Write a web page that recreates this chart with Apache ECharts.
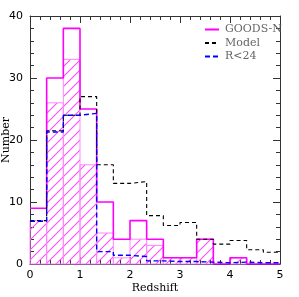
<!DOCTYPE html>
<html><head><meta charset="utf-8">
<script src="https://cdn.jsdelivr.net/npm/echarts@6/dist/echarts.min.js"></script>
<style>html,body{margin:0;padding:0;background:#fff}#c{width:299px;height:297px}</style>
</head><body><div id="c"></div>
<script>
// Bin edges (width 1/3 in redshift)
const binEdges = [0, 0.3333, 0.6667, 1, 1.3333, 1.6667, 2, 2.3333, 2.6667, 3, 3.3333, 3.6667, 4, 4.3333, 4.6667, 5];
// GOODS-N total counts per bin
const goodsN = [9, 30, 38, 25, 10, 4, 7, 4, 1, 1, 4, 0, 1, 0, 0];
// GOODS-N hatched subset per bin
const goodsNHatched = [7, 26, 33, 16, 5, 1, 4, 3, 1, 1, 4, 0, 1, 0, 0];
// Model prediction per bin
const model = [7, 21.5, 24, 27, 16, 13, 13.3, 7.8, 6.2, 6.7, 4, 3.2, 3.8, 2.3, 1.9];
// R<24 subset per bin
const rLt24 = [6.9, 21.3, 24, 24.3, 2, 1.4, 1.2, 0.5, 0.4, 0.4, 0.3, 0.2, 0.3, 0.2, 0.2];
// Tick labels
const xTicks = [0, 1, 2, 3, 4, 5];
const yTicks = [0, 10, 20, 30, 40];
const seriesNames = ['GOODS-N', 'Model', 'R<24'];

function stepPoints(vals) {
  const pts = vals.map((v, i) => [binEdges[i], v]);
  pts.push([binEdges[vals.length], vals[vals.length - 1]]);
  return pts;
}

// hatch pattern
const tile = 10;
const pc = document.createElement('canvas');
pc.width = tile; pc.height = tile;
const g = pc.getContext('2d');
g.strokeStyle = '#ff4dff';
g.lineWidth = 1.1;
g.beginPath();
g.moveTo(-1, tile + 1); g.lineTo(tile + 1, -1);
g.moveTo(-1, 1); g.lineTo(1, -1);
g.moveTo(tile - 1, tile + 1); g.lineTo(tile + 1, tile - 1);
g.stroke();

const chart = echarts.init(document.getElementById('c'), null, {renderer: 'canvas'});

const serifFont = 'DejaVu Serif';
const sansFont = 'DejaVu Sans';
const axisColor = '#333';

function xAxisCfg(pos, showLabel) {
  return {
    type: 'value', position: pos,
    min: xTicks[0], max: xTicks[xTicks.length - 1], interval: xTicks[1] - xTicks[0],
    axisLine: {show: true, onZero: false, lineStyle: {color: axisColor, width: 1}},
    axisTick: {show: true, inside: true, length: 7, lineStyle: {color: axisColor}},
    minorTick: {show: true, splitNumber: 5, length: 4, lineStyle: {color: axisColor}},
    axisLabel: {show: showLabel, color: '#000', fontFamily: sansFont, fontSize: 11, margin: 6},
    splitLine: {show: false},
    name: showLabel ? 'Redshift' : '',
    nameLocation: 'middle', nameGap: 19, nameMoveOverlap: false,
    nameTextStyle: {color: '#000', fontFamily: serifFont, fontSize: 11}
  };
}
function yAxisCfg(pos, showLabel) {
  return {
    type: 'value', position: pos,
    min: yTicks[0], max: yTicks[yTicks.length - 1], interval: yTicks[1] - yTicks[0],
    axisLine: {show: true, onZero: false, lineStyle: {color: axisColor, width: 1}},
    axisTick: {show: true, inside: true, length: 7, lineStyle: {color: axisColor}},
    minorTick: {show: true, splitNumber: 5, length: 4, lineStyle: {color: axisColor}},
    axisLabel: {show: showLabel, color: '#000', fontFamily: sansFont, fontSize: 11, margin: 7},
    splitLine: {show: false},
    name: showLabel ? 'Number' : '',
    nameLocation: 'middle', nameGap: 18, nameMoveOverlap: false,
    nameTextStyle: {color: '#000', fontFamily: serifFont, fontSize: 11}
  };
}

const option = {
  animation: false,
  backgroundColor: '#fff',
  grid: {left: 30, top: 16, right: 19, bottom: 33, containLabel: false, outerBoundsMode: 'none'},
  xAxis: [xAxisCfg('bottom', true), xAxisCfg('top', false)],
  yAxis: [yAxisCfg('left', true), yAxisCfg('right', false)],
  legend: {
    data: seriesNames,
    orient: 'vertical', left: 199, top: 19,
    itemWidth: 14, itemHeight: 10, itemGap: 2.5,
    itemStyle: {opacity: 0},
    textStyle: {color: '#666', fontFamily: serifFont, fontSize: 11, padding: [0, 0, 0, 1]}
  },
  series: [
    {
      type: 'custom', name: 'hatched', xAxisIndex: 0, yAxisIndex: 0, z: 1, silent: true,
      data: goodsNHatched.map((v, i) => [binEdges[i], binEdges[i + 1], v]),
      encode: {x: [0, 1], y: 2},
      renderItem: function (params, api) {
        const v = api.value(2);
        if (!(v > 0)) return null;
        const a = api.coord([api.value(0), v]);
        const b = api.coord([api.value(1), 0]);
        return {
          type: 'rect',
          shape: {x: a[0], y: a[1], width: b[0] - a[0], height: b[1] - a[1]},
          style: {fill: {image: pc, repeat: 'repeat'}, stroke: '#ff88ff', lineWidth: 1}
        };
      }
    },
    {
      type: 'line', name: seriesNames[0], xAxisIndex: 0, yAxisIndex: 0, z: 3,
      data: stepPoints(goodsN), step: 'end', symbol: 'none', showSymbol: false,
      color: '#ff00ff', lineStyle: {color: '#ff00ff', width: 1.6}
    },
    {
      type: 'line', name: seriesNames[1], xAxisIndex: 0, yAxisIndex: 0, z: 4,
      data: stepPoints(model), step: 'end', symbol: 'none', showSymbol: false,
      color: '#000', lineStyle: {color: '#000', width: 1.1, type: [4, 3]}
    },
    {
      type: 'line', name: seriesNames[2], xAxisIndex: 0, yAxisIndex: 0, z: 5,
      data: stepPoints(rLt24), step: 'end', symbol: 'none', showSymbol: false,
      color: '#0000ff', lineStyle: {color: '#0000ff', width: 1.4, type: [5, 3]}
    }
  ]
};
chart.setOption(option);
</script>
</body></html>
